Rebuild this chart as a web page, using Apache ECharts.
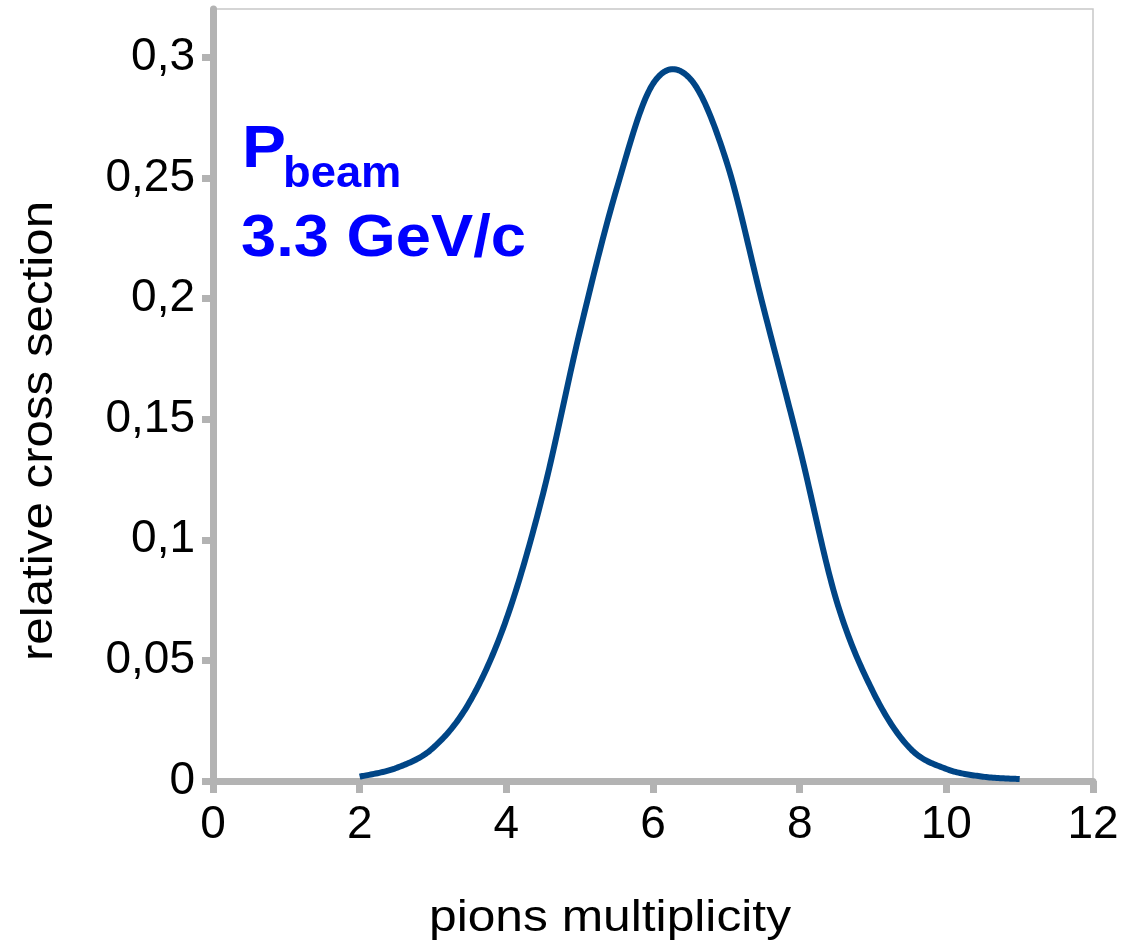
<!DOCTYPE html>
<html>
<head>
<meta charset="utf-8">
<script src="https://cdn.jsdelivr.net/npm/echarts@6/dist/echarts.min.js"></script>
<style>
html,body{margin:0;padding:0;background:#fff;}
#c{width:1122px;height:946px;}
</style>
</head>
<body>
<div id="c"></div>
<script>
const multiplicity = [2, 2.5, 3, 3.5, 4, 4.5, 5, 5.5, 6, 6.5, 7, 7.5, 8, 8.5, 9, 9.5, 10, 10.5, 11];
const crossSection = [0.0018, 0.0054, 0.0137, 0.0328, 0.067, 0.119, 0.186, 0.245, 0.289, 0.2913, 0.257, 0.197, 0.138, 0.075, 0.037, 0.0137, 0.005, 0.0018, 0.0008];
const yTicks = [0, 0.05, 0.1, 0.15, 0.2, 0.25, 0.3];
const xTicks = [0, 2, 4, 6, 8, 10, 12];
const xTitle = 'pions multiplicity';
const yTitle = 'relative cross section';
const annoMain = 'P';
const annoSub = 'beam';
const annoLine2 = '3.3 GeV/c';

const FONT = '"Liberation Sans", Arial, sans-serif';
const axisGray = '#b3b3b3';
const lineColor = '#004586';

// One smoothed (Catmull-Rom style) stroke through all data points, positioned by the axis scales
function renderSmooth(params, api) {
  if (params.dataIndex !== 0) return null;
  const n = multiplicity.length;
  const P = k => {
    const j = Math.max(0, Math.min(n - 1, k));
    return api.coord([multiplicity[j], crossSection[j]]);
  };
  const pts = [];
  const STEPS = 24;
  for (let i = 0; i < n - 1; i++) {
    const p0 = P(i - 1), p1 = P(i), p2 = P(i + 1), p3 = P(i + 2);
    const c1 = [p1[0] + (p2[0] - p0[0]) / 6, p1[1] + (p2[1] - p0[1]) / 6];
    const c2 = [p2[0] - (p3[0] - p1[0]) / 6, p2[1] - (p3[1] - p1[1]) / 6];
    for (let s = (i === 0 ? 0 : 1); s <= STEPS; s++) {
      const t = s / STEPS, u = 1 - t;
      const a = u * u * u, b = 3 * u * u * t, c = 3 * u * t * t, d = t * t * t;
      pts.push([a * p1[0] + b * c1[0] + c * c2[0] + d * p2[0],
                a * p1[1] + b * c1[1] + c * c2[1] + d * p2[1]]);
    }
  }
  return {
    type: 'polyline',
    shape: {points: pts},
    style: {stroke: lineColor, lineWidth: 6, fill: 'none', lineCap: 'butt', lineJoin: 'round'}
  };
}

const chart = echarts.init(document.getElementById('c'), null, {renderer: 'canvas'});
chart.setOption({
  backgroundColor: '#ffffff',
  animation: false,
  grid: {left: 213, right: 29, top: 9, bottom: 165, show: true, borderColor: '#c8c8c8', borderWidth: 1.5, containLabel: false},
  xAxis: {
    type: 'value', min: 0, max: 12, interval: 2,
    axisLine: {show: true, onZero: false, lineStyle: {color: axisGray, width: 7}},
    axisTick: {show: true, length: 12, lineStyle: {color: axisGray, width: 7}, customValues: xTicks},
    axisLabel: {color: '#000', fontSize: 46, fontFamily: FONT, margin: 21, customValues: xTicks},
    splitLine: {show: false}
  },
  yAxis: {
    type: 'value', min: 0, max: 0.32,
    axisLine: {show: true, onZero: false, lineStyle: {color: axisGray, width: 7}},
    axisTick: {show: true, length: 11, lineStyle: {color: axisGray, width: 7}, customValues: yTicks},
    axisLabel: {color: '#000', fontSize: 46, fontFamily: FONT, margin: 18, customValues: yTicks,
      formatter: v => String(Math.round(v * 100) / 100).replace('.', ',')},
    splitLine: {show: false}
  },
  series: [{
    type: 'custom',
    coordinateSystem: 'cartesian2d',
    data: multiplicity.map((x, i) => [x, crossSection[i]]),
    encode: {x: 0, y: 1},
    renderItem: renderSmooth,
    clip: false,
    z: 3
  }],
  graphic: [
    {type: 'text', style: {text: yTitle, x: 0, y: 0, font: '44px ' + FONT, fill: '#000', textAlign: 'center', textVerticalAlign: 'middle'},
     x: 40, y: 431, rotation: Math.PI / 2, scaleX: 1.12},
    {type: 'text', style: {text: xTitle, x: 0, y: 0, font: '44px ' + FONT, fill: '#000', textAlign: 'center', textVerticalAlign: 'middle'},
     x: 610, y: 919, scaleX: 1.13},
    {type: 'text', style: {text: annoMain, x: 0, y: 0, font: 'bold 60px ' + FONT, fill: '#0000ff', textAlign: 'left', textVerticalAlign: 'middle'},
     x: 242, y: 150, scaleX: 1.1},
    {type: 'text', style: {text: annoSub, x: 0, y: 0, font: 'bold 44px ' + FONT, fill: '#0000ff', textAlign: 'left', textVerticalAlign: 'middle'},
     x: 283, y: 175, scaleX: 1.03},
    {type: 'text', style: {text: annoLine2, x: 0, y: 0, font: 'bold 60px ' + FONT, fill: '#0000ff', textAlign: 'left', textVerticalAlign: 'middle'},
     x: 241, y: 239, scaleX: 1.055}
  ]
});
</script>
</body>
</html>
